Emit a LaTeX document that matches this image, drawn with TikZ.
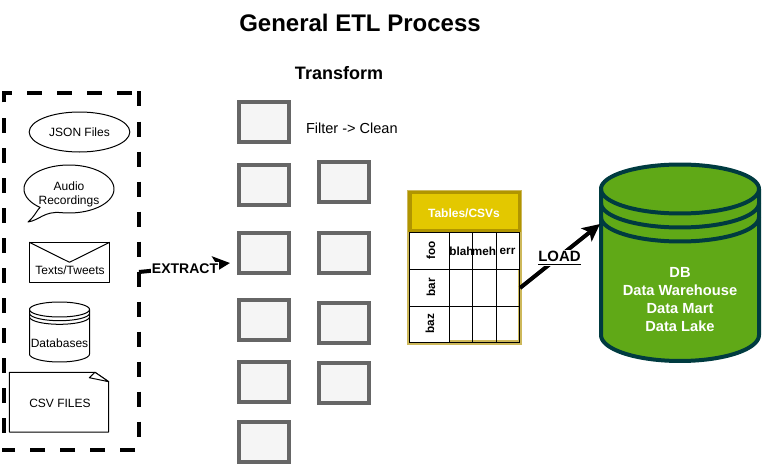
\documentclass[tikz,border=0pt]{standalone}
\usepackage{fontspec}
\setmainfont{Liberation Sans}
\usetikzlibrary{arrows.meta,shapes.geometric}
\definecolor{boxgrey}{HTML}{666666}
\definecolor{boxfill}{HTML}{F5F5F5}
\definecolor{tblhead}{HTML}{E3C800}
\definecolor{tbledge}{HTML}{B09500}
\definecolor{tblrim}{HTML}{CDB85A}
\definecolor{dbfill}{HTML}{60A917}
\definecolor{dbline}{HTML}{003B40}
\tikzset{
  x=0.75pt,y=-0.75pt,
  every node/.style={inner sep=0pt,outer sep=0pt,align=center},
  procbox/.style={draw=boxgrey,fill=boxfill,line width=3pt,minimum width=37.5pt,minimum height=30pt},
  srcside/.style={line width=3.6pt,line cap=butt},
  txt12/.style={font=\fontsize{9}{10.8}\selectfont},
  txt14/.style={font=\fontsize{10.9}{13.5}\selectfont},
  shapeline/.style={draw=black,line width=0.75pt,fill=white,line join=round},
  grid/.style={draw=black,line width=0.9pt},
  cell/.style={font=\fontsize{8.8}{10}\selectfont\bfseries},
  dbstroke/.style={draw=dbline,line width=3pt,line join=round},
  flowarrow/.style={line width=3pt,-{Stealth[length=13pt,width=12.5pt,inset=3pt]}},
  flowlabel/.style={fill=white,font=\fontsize{10.5}{12}\selectfont\bfseries,inner sep=1pt},
}
\begin{document}
\begin{tikzpicture}
\useasboundingbox (0,0) rectangle (764,467);
\fill[white] (0,0) rectangle (764,467);
% titles
\node[font=\fontsize{18}{20}\selectfont\bfseries] (title) at (360,23) {General ETL Process};
\node[font=\fontsize{13.5}{15}\selectfont\bfseries] (transform) at (339,73) {Transform};
% source frame
\coordinate (srcnw) at (4,93);
\coordinate (srcne) at (139,93);
\coordinate (srcse) at (139,450);
\coordinate (srcsw) at (4,450);
\coordinate (srceast) at (139,272);
\draw[srcside,dash pattern=on 11.25pt off 11.25pt,dash phase=3.75pt] (2,93) -- (srcne);
\draw[srcside,dash pattern=on 11.25pt off 11.25pt] (139,91.5) -- (srcse);
\draw[srcside,dash pattern=on 11.25pt off 11.25pt,dash phase=19.5pt] (srcse) -- (2,450);
\draw[srcside,dash pattern=on 11.25pt off 11.25pt,dash phase=8.25pt] (4,451.5) -- (srcnw);
% json
\node[shapeline,ellipse,minimum width=75.5pt,minimum height=30pt,txt12] (json) at (79.5,132) {};
\node[txt12] (jsontext) at (79.5,132.7) {JSON Files};
% audio callout
\draw[shapeline] plot[domain=-230:100,samples=90] ({69+45*cos(\x)},{189+24*sin(\x)})
  .. controls (44,211) and (40,220) .. (28,222)
  .. controls (35,216) and (37,210) .. cycle;
\node[txt12] (audio) at (69,194.3) {Audio\\Recordings};
% envelope
\node[shapeline,minimum width=60.3pt,minimum height=30pt] (mail) at (69.5,262.3) {};
\draw[shapeline,fill=none] (mail.north west) -- (mail.center) -- (mail.north east);
\node[txt12] (mailtext) at (70,270) {Texts/Tweets};
% small cylinder
\draw[shapeline] plot[domain=180:360,samples=40] ({59.5+30*cos(\x)},{309.5+7.5*sin(\x)})
  -- plot[domain=0:180,samples=40] ({59.5+30*cos(\x)},{354+8*sin(\x)}) -- cycle;
\draw[shapeline,fill=none] plot[domain=180:0,samples=40] ({59.5+30*cos(\x)},{309.5+7.5*sin(\x)});
\draw[shapeline,fill=none] plot[domain=180:0,samples=40] ({59.5+30*cos(\x)},{313.2+7.5*sin(\x)});
\draw[shapeline,fill=none] plot[domain=180:0,samples=40] ({59.5+30*cos(\x)},{316.8+7.5*sin(\x)});
\node[txt12] (dbsmall) at (59.5,343) {Databases};
% csv note
\draw[shapeline] (9.3,372.3) -- (95,372.3) -- (108.7,381.7) -- (108.7,432) -- (9.3,432) -- cycle;
\draw[shapeline] (95,372.3) -- (89.3,377.7) -- (108.7,381.7) -- cycle;
\node[txt12] (csv) at (60,403) {CSV FILES};
% process boxes
\node[procbox] (a1) at (264,122) {};
\node[procbox] (a2) at (264,184.7) {};
\node[procbox] (a3) at (264,252.5) {};
\node[procbox] (a4) at (264,319.5) {};
\node[procbox] (a5) at (264,382) {};
\node[procbox] (a6) at (264,442) {};
\node[procbox] (b1) at (344,182) {};
\node[procbox] (b2) at (344,253) {};
\node[procbox] (b3) at (344,322.5) {};
\node[procbox] (b4) at (344,383) {};
\node[txt14,anchor=west] (filter) at (306,128) {Filter -> Clean};
% table
\draw[draw=tblrim,fill=white,line width=1.1pt] (408,190.7) rectangle (521.2,344);
\draw[draw=tbledge,fill=tblhead,line width=2.5pt] (410,192.7) rectangle (519.2,230.3);
\node[font=\fontsize{9}{10}\selectfont\bfseries,text=white] (tblhead) at (464,213) {Tables/CSVs};
\draw[draw=tblrim,line width=1.2pt] (449.3,340.8) -- (518.3,340.8) -- (518.3,269.3);
\draw[grid] (409.3,232.3) -- (519.8,232.3) (409.3,269.3) -- (519.8,269.3) (409.3,306.3) -- (519.8,306.3);
\draw[grid] (449.3,232.3) -- (449.3,342.3) (472.3,232.3) -- (472.3,342.3) (496.7,232.3) -- (496.7,342.3);
\draw[grid] (409.3,232.3) rectangle (519.8,342.3);
\node[cell,rotate=90] (foo) at (431,250.5) {foo};
\node[cell,rotate=90] (bar) at (431,287.5) {bar};
\node[cell,rotate=90] (baz) at (430,323.5) {baz};
\node[cell] (blah) at (461.5,251.5) {blah};
\node[cell] (meh) at (484,251.5) {meh};
\node[cell] (err) at (507.5,251.5) {err};
% database
\draw[dbstroke,fill=dbfill] plot[domain=180:360,samples=60] ({680+79*cos(\x)},{189+24.5*sin(\x)})
  -- plot[domain=0:180,samples=60] ({680+79*cos(\x)},{335+26*sin(\x)}) -- cycle;
\draw[dbstroke] plot[domain=180:0,samples=60] ({680+79*cos(\x)},{189+24.5*sin(\x)});
\draw[dbstroke] plot[domain=180:0,samples=60] ({680+79*cos(\x)},{203+24.5*sin(\x)});
\draw[dbstroke] plot[domain=180:0,samples=60] ({680+79*cos(\x)},{217+24.5*sin(\x)});
\node[font=\fontsize{11}{13.5}\selectfont\bfseries,text=white] (dbtext) at (680,300) {DB\\Data Warehouse\\Data Mart\\Data Lake};
% connectors
\coordinate (extractend) at (230,263);
\coordinate (loadstart) at (520,288);
\coordinate (loadend) at (600,224);
\draw[flowarrow] (srceast) -- (extractend);
\draw[flowarrow] (loadstart) -- (loadend);
\node[flowlabel] (extract) at (185,268.7) {EXTRACT};
\node[flowlabel,font=\fontsize{11.2}{12}\selectfont\bfseries] (load) at (559.5,258) {\underline{LOAD}};
\end{tikzpicture}
\end{document}
